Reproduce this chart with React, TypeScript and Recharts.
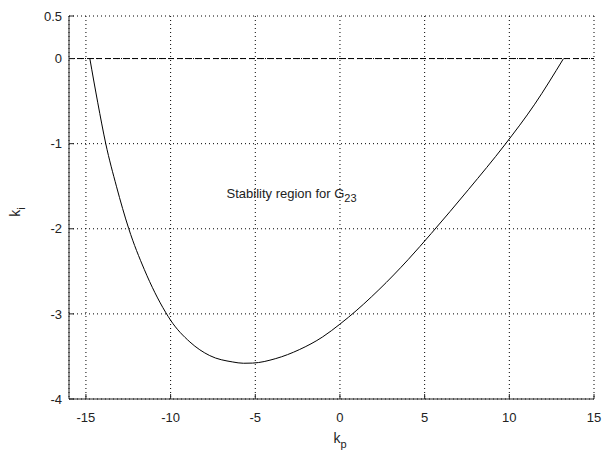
import { LineChart, Line, XAxis, YAxis, CartesianGrid, ReferenceLine, ReferenceDot, Label } from 'recharts';

// boundary of the stability region (kp, ki)
const kpValues = [-14.77, -14.3, -13.83, -13.2, -12.47, -11.55, -10.3, -10, -8.86, -7.69, -6.33, -5.7, -5.16, -3.79, -2.4, -1.02, 0, 0.5, 2.3, 4.04, 5.39, 7.6, 9.73, 11.5, 13.2];
const kiValues = [0, -0.52, -1.0, -1.5, -2.0, -2.48, -2.98, -3.075, -3.33, -3.49, -3.565, -3.58, -3.578, -3.525, -3.42, -3.27, -3.12, -3.04, -2.716, -2.359, -2.055, -1.536, -1.014, -0.536, 0];

const xTicks = [-15, -10, -5, 0, 5, 10, 15];
const yTicks = [-4, -3, -2, -1, 0, 0.5];
const xDomain: [number, number] = [-16, 15];
const yDomain: [number, number] = [-4, 0.5];

const annotation = { kp: -6.7, ki: -1.56, text: 'Stability region for G', sub: '23' };

const FONT = '"Liberation Sans", Arial, sans-serif';
const AXIS = '#222';

const data = kpValues.map((kp, i) => ({ kp, ki: kiValues[i] }));

const emptyTick = () => <g />;

export default function App() {
  return (
    <div style={{ position: 'absolute', left: 0, top: 0, width: 603, height: 452, background: '#fff' }}>
      <LineChart width={603} height={452} data={data} margin={{ top: 16, right: 9, bottom: 0, left: 0 }}>
        <CartesianGrid stroke="#000" strokeDasharray="1 3" strokeWidth={1} />
        <XAxis
          dataKey="kp"
          type="number"
          domain={xDomain}
          ticks={xTicks}
          allowDataOverflow
          height={53}
          tickSize={-5}
          tickMargin={19}
          tick={{ fill: AXIS, fontSize: 13, fontFamily: FONT }}
          axisLine={{ stroke: AXIS }}
          tickLine={{ stroke: AXIS }}
        >
          <Label
            content={() => (
              <text x={340} y={443} textAnchor="middle" fontSize={14} fontFamily={FONT} fill={AXIS}>
                k<tspan fontSize={11} dy={5}>p</tspan>
              </text>
            )}
          />
        </XAxis>
        <XAxis
          xAxisId="top"
          orientation="top"
          type="number"
          domain={xDomain}
          ticks={xTicks}
          allowDataOverflow
          height={0}
          tickSize={-5}
          tick={emptyTick}
          axisLine={{ stroke: AXIS }}
          tickLine={{ stroke: AXIS }}
        />
        <YAxis
          type="number"
          domain={yDomain}
          ticks={yTicks}
          allowDataOverflow
          width={69}
          tickSize={-5}
          tickMargin={12}
          tick={{ fill: AXIS, fontSize: 13, fontFamily: FONT }}
          axisLine={{ stroke: AXIS }}
          tickLine={{ stroke: AXIS }}
        >
          <Label
            content={() => (
              <text x={20} y={212} transform="rotate(-90 20 212)" textAnchor="middle" fontSize={14} fontFamily={FONT} fill={AXIS}>
                k<tspan fontSize={11} dy={5}>i</tspan>
              </text>
            )}
          />
        </YAxis>
        <YAxis
          yAxisId="right"
          orientation="right"
          type="number"
          domain={yDomain}
          ticks={yTicks}
          allowDataOverflow
          width={0}
          tickSize={-5}
          tick={emptyTick}
          axisLine={{ stroke: AXIS }}
          tickLine={{ stroke: AXIS }}
        />
        <ReferenceLine y={0} stroke="#000" strokeDasharray="6 3" strokeWidth={1} />
        <Line
          dataKey="ki"
          type="monotone"
          stroke="#000"
          strokeWidth={1}
          dot={false}
          isAnimationActive={false}
        />
        <ReferenceDot
          x={annotation.kp}
          y={annotation.ki}
          r={0}
          fill="none"
          stroke="none"
          label={(props: any) => {
            const vb = props.viewBox || {};
            return (
              <text x={vb.x} y={vb.y} dy={7} textAnchor="start" fontSize={13} fontFamily={FONT} fill={AXIS}>
                {annotation.text}
                <tspan fontSize={11} dy={4}>{annotation.sub}</tspan>
              </text>
            );
          }}
        />
      </LineChart>
    </div>
  );
}
